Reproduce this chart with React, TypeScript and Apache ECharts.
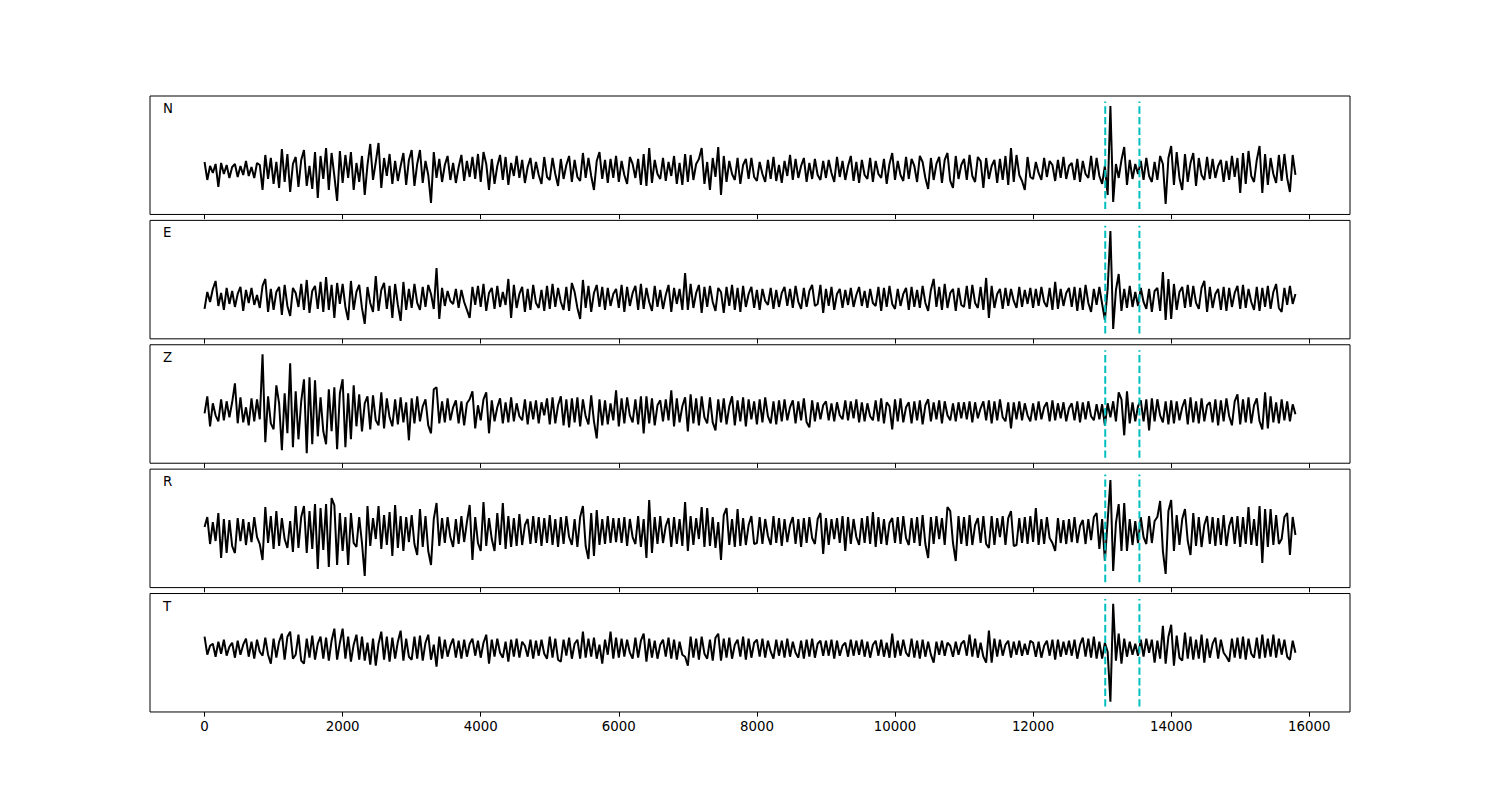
import React, { useEffect, useRef } from "react";
import * as echarts from "echarts";

// Sample spacing of the traces (x units)
const SAMPLE_STEP = 40;
const TRACE_NAMES = ["N", "E", "Z", "R", "T"];

// Waveform values (one value every SAMPLE_STEP units, 0..15800)
const N_TRACE = [
  8,-10,4,-3,6,-17,7,-4,5,-8,3,6,-7,4,-5,9,-6,3,-8,7,5,-20,15,-9,12,
  -14,8,-18,21,-12,16,-22,6,13,-17,10,20,-16,4,-19,18,-28,14,-9,22,-20,17,-6,-31,19,
  -13,15,-8,18,-20,7,-12,14,-25,5,26,-10,8,27,-18,12,-6,16,-14,9,-11,4,17,-15,10,
  20,-16,6,20,-13,9,-5,-33,18,-8,11,-12,5,14,-10,7,-13,3,15,-11,9,-7,13,-9,16,
  -12,18,6,-20,11,-14,4,15,-10,13,-15,7,-6,14,-8,10,-13,3,12,-9,8,-5,-14,13,-7,
  -10,12,-4,-16,11,-9,5,14,-12,10,-7,-11,17,-8,12,-6,-20,9,18,-9,10,-13,11,-8,14,
  -12,9,-5,-14,13,6,-8,11,-15,16,-16,22,-13,10,-4,-9,12,-11,8,-6,14,-14,7,-15,16,
  -12,15,-10,6,11,22,-14,8,-20,12,-7,23,-25,14,-12,9,-4,-10,12,-14,5,11,-9,12,-7,
  -11,8,-4,-12,10,-9,13,-11,5,-13,9,-6,15,-10,11,-8,4,12,-12,7,-9,11,-5,-10,9,
  -8,10,-3,-12,13,-7,9,-10,4,14,-11,8,-13,10,-5,-9,12,-12,9,-4,-8,11,-14,6,17,
  -10,9,-5,-11,13,-9,11,4,-12,14,8,-8,-19,12,-10,6,13,-13,10,17,-11,-18,14,-9,5,
  11,-10,15,-6,-12,13,9,-18,12,-9,4,10,-13,11,-10,14,-15,22,-12,15,-5,-11,-20,13,-7,
  -9,8,-3,-10,12,-7,9,5,-11,10,-8,13,-9,4,7,-10,11,-12,9,-4,-8,14,-10,12,-6,
  -14,4,-25,64,-32,6,-8,10,23,-15,10,-9,6,-4,9,-10,12,-6,-12,8,-10,14,6,-34,12,
  24,-15,18,-8,-20,16,-12,7,17,-16,12,-5,-10,13,-9,11,-8,4,10,-12,9,-10,14,-7,12,
  -23,17,-14,19,-6,-12,10,24,-23,16,-15,12,-4,-13,15,-11,16,-8,-22,15,-5,
];

const E_TRACE = [
  -11,6,-4,9,17,-8,5,-12,10,-6,7,-9,4,11,-13,8,-5,10,-7,3,-10,12,19,-14,9,
  -12,6,11,-17,13,-8,-18,10,5,-9,14,-12,18,-15,7,12,-11,16,-14,21,-12,13,-20,15,-6,
  14,-9,-22,17,-12,6,13,-10,-26,11,-5,-14,22,-13,8,15,-11,12,-20,14,-7,-23,16,-12,9,
  -10,14,-5,-12,11,-9,13,4,-11,30,-21,10,-8,7,-3,-6,9,-10,8,-4,-12,-20,11,-7,12,
  -9,14,-13,5,10,-11,12,-9,6,-7,19,-20,13,-10,4,11,-14,9,-12,13,-5,-10,8,-13,12,
  -11,14,-9,10,-4,-12,11,-13,15,6,-10,-21,18,-10,12,-14,5,13,-9,11,-12,10,-8,4,9,
  -10,13,-14,11,-8,5,12,-12,14,-11,10,-4,-13,12,-9,8,-11,3,13,-14,10,-6,9,-12,25,
  -12,14,-10,5,13,-15,11,-9,12,-4,-13,10,6,-15,11,-8,13,-12,10,-14,12,-9,4,11,-10,
  8,-12,9,-3,-7,10,-11,8,-9,5,11,-8,9,-10,12,-4,-11,10,-9,7,13,-8,-6,13,-15,
  9,-8,11,-12,4,9,-10,8,-7,10,-9,3,11,-8,7,-10,9,-5,-8,11,-13,10,-9,12,-6,
  -11,9,-8,4,10,-12,11,-9,8,-10,12,-5,-13,8,19,-9,11,-12,14,-10,5,9,-13,10,-7,
  -9,12,-11,13,-5,-10,11,-12,20,-20,12,-10,4,9,-11,10,-8,9,-3,-10,11,-9,8,-6,10,
  -10,9,-8,11,-4,-9,10,-12,16,-11,9,-8,5,10,-9,11,-13,10,-12,13,-5,-14,9,-7,11,
  -6,-22,9,67,-31,8,24,-13,9,-10,12,-9,6,-8,10,-4,-11,9,-14,7,10,-13,26,-22,19,
  -21,14,-12,6,11,-10,13,-9,12,-5,-11,10,17,-14,11,-10,4,9,-12,11,-13,10,-9,5,12,
  -11,13,-10,9,-4,-12,11,-13,10,-9,12,-11,6,14,-10,-14,10,-7,12,-6,4,
];

const Z_TRACE = [
  -2,15,-15,8,-4,-10,12,-9,10,-6,9,28,-12,14,-11,4,-14,13,-10,12,-8,57,-31,15,-12,
  -18,26,8,-39,18,-22,48,-36,20,-28,10,32,-42,34,-33,31,-25,14,-20,-33,22,-20,24,-38,18,
  32,-36,18,-28,26,-15,17,-20,8,15,-18,16,-9,-14,19,-17,13,-6,-15,12,-13,14,-11,9,-29,
  13,-12,15,-10,5,12,-14,-22,22,24,-12,10,-11,13,-9,4,11,-12,10,-14,8,12,20,-17,6,
  -9,12,19,-22,11,-10,4,13,-12,9,-11,14,-10,8,-5,-9,12,-13,10,-8,11,-12,9,-4,13,
  -13,14,-12,6,15,-14,12,-16,13,-11,14,-15,12,-5,-13,16,-10,-27,12,-14,11,-13,8,-9,21,
  -15,13,-12,14,-4,-11,12,-13,15,-22,15,-12,13,-14,6,11,-10,12,-9,21,-15,13,-11,5,14,
  -20,17,-12,13,-14,15,-6,-12,14,-11,-19,12,-11,13,-13,5,15,-14,11,-10,14,-15,12,-8,10,
  -13,12,-11,14,-5,-12,10,-13,11,-10,12,-9,4,11,-12,10,-9,13,-11,-16,11,-10,9,-8,6,
  10,-9,8,-10,9,-4,-8,11,-9,10,-7,12,-11,9,-10,8,-5,-9,11,-10,13,-12,9,5,-18,
  12,-10,13,-11,4,9,-12,10,-9,11,-13,6,12,-10,9,-8,11,-12,10,-4,-9,8,-10,9,-7,
  9,-8,10,-11,9,-7,3,10,-9,11,-12,10,-9,12,-6,-10,9,-17,9,-8,10,-9,8,-4,-10,
  8,-9,10,-8,4,9,-10,11,-9,8,-7,9,-10,3,8,-9,10,-11,9,-8,10,-5,-9,7,-8,
  7,-14,8,-6,10,-10,19,12,-24,20,-12,9,-10,5,11,-10,12,-19,13,-10,12,-4,-11,10,-13,
  11,-12,10,-9,4,12,-13,14,-11,10,-12,13,-10,6,9,-11,12,-14,11,-10,13,-5,-14,10,17,
  -13,12,-11,14,-12,6,13,-10,-18,19,-17,15,-11,9,-12,12,-9,10,-10,7,-3,
];

const R_TRACE = [
  4,14,-13,9,-10,18,-27,12,-22,11,-15,-22,13,-10,12,-14,9,-11,14,-6,-13,-29,24,-12,15,
  -18,20,-15,13,-8,-17,10,-21,25,-17,14,25,-22,20,-18,27,-38,23,-19,27,-36,33,26,-34,18,
  -20,14,-34,18,-12,-16,14,-12,-45,25,-15,13,-8,25,-18,16,-14,19,-25,26,-17,15,-20,14,-11,
  16,-13,-24,22,-16,15,-20,-34,12,28,-15,13,-12,14,-6,-16,12,-13,15,-11,9,26,-29,14,-12,
  -20,29,-15,13,-8,-20,18,-14,28,-18,15,-16,13,-15,17,-14,6,12,-13,15,-12,14,-15,13,-12,
  16,-14,12,-16,14,-13,15,-6,-14,12,-16,14,25,-15,-28,18,-25,21,-14,12,-13,15,-12,13,-11,
  13,-12,14,-15,12,-6,-13,15,-16,12,-27,31,-22,14,-13,15,-12,5,13,-16,14,-13,12,-15,29,
  -20,15,-14,13,-8,24,-16,23,-15,14,-17,9,-29,16,23,-14,12,-16,22,-15,13,-14,6,15,-13,
  -12,14,-13,12,-5,-14,15,-12,13,-15,12,-11,6,14,-13,12,-16,13,-12,14,-7,-13,12,18,-23,
  13,-14,12,-8,13,-12,15,-20,14,-13,12,-6,-14,13,-12,15,-13,19,-16,14,-13,12,-14,8,13,
  -12,14,-13,15,-7,-14,13,-12,14,-15,16,-13,-27,14,-13,15,-8,13,-14,24,20,-12,-30,15,-13,
  14,-15,16,-14,6,13,-12,15,-13,-17,15,-14,13,-6,15,-14,13,20,-15,-14,13,-12,14,-13,15,
  -11,23,-14,12,-13,14,-7,-12,-20,13,-12,11,-13,12,-11,14,-12,5,11,-13,12,-9,14,18,-18,
  12,-30,10,51,-40,8,27,-20,28,-20,12,-14,10,-12,14,-6,-13,15,-12,10,14,30,-20,-43,20,
  31,-20,16,-14,12,22,-10,-24,18,-15,14,-16,6,15,-13,14,-15,13,-14,16,-15,5,14,-13,15,
  -16,14,-13,24,-14,12,-15,25,-32,22,-16,22,-14,16,-13,-8,14,18,-24,14,-4,
];

const T_TRACE = [
  12,-6,3,5,-8,7,-5,9,-7,2,6,-9,8,-6,4,10,-8,7,-10,9,-3,-7,11,-6,-15,
  10,-9,7,15,-11,12,17,-10,-6,14,-12,-15,10,-9,13,-11,5,12,-10,11,-12,8,20,-11,6,
  20,-10,12,-13,4,14,-11,12,-12,6,-16,10,-17,5,17,-11,12,-13,11,-10,7,18,-12,10,-8,
  -11,12,-10,13,-12,6,14,-11,4,-18,12,-10,9,-8,3,10,-9,8,-10,9,-8,5,10,-7,8,
  -9,6,14,-15,9,-8,10,-4,-9,7,-13,9,-8,10,-9,7,3,-8,9,-10,8,-7,9,-5,-10,
  12,-9,10,-11,-13,9,-7,11,-10,5,9,-10,17,-9,10,-8,11,-10,4,-15,9,-6,17,-10,11,
  -9,10,-8,9,-4,-10,11,-9,8,15,-13,10,-9,8,-10,4,9,-8,11,-10,9,-11,7,-6,-8,
  -17,12,-9,10,-11,12,-5,-10,9,-12,11,15,-12,10,-9,11,-10,4,9,-8,12,-11,10,-9,6,
  9,-8,10,-9,8,-3,-10,9,-7,8,-9,10,-8,7,-4,-9,8,-10,9,-8,10,-9,5,8,-7,
  8,-7,9,-10,8,-7,3,6,-8,9,-7,8,-6,9,-8,7,-9,4,8,-7,9,-8,6,-9,15,
  -9,8,-7,9,-4,-8,10,-9,8,-10,9,-8,7,-6,-14,7,-6,8,-7,6,3,-8,7,-6,5,
  8,-7,14,-8,10,-9,6,-8,-14,18,-14,10,-8,9,-7,4,8,-9,7,-6,8,-7,5,-6,8,
  6,-8,7,-9,3,8,-7,9,-11,9,-8,7,-6,8,-7,9,-10,4,11,-8,10,-9,12,-10,7,
  -10,6,-3,-53,45,-12,15,-15,10,-8,7,-6,5,-7,9,-8,10,-4,9,-14,8,-10,23,-15,12,
  24,-17,13,-9,-12,16,-10,12,-11,9,-10,14,-14,10,-9,5,11,-10,9,-4,-8,-13,10,-9,11,
  -10,12,-11,10,-5,-9,11,-10,14,-9,10,-8,14,-9,10,-6,9,-8,-11,8,-4,
];

const TRACES = [N_TRACE, E_TRACE, Z_TRACE, R_TRACE, T_TRACE];

// Axis settings
const X_TICKS = [0, 2000, 4000, 6000, 8000, 10000, 12000, 14000, 16000];
const X_MIN = -790;
const X_MAX = 16590;
const Y_MIN = [-44.5, -40.9, -51.9, -56.6, -63.3];
const Y_MAX = [74, 77.6, 66.5, 61.9, 55.2];

// Picked times (dashed markers)
const PICK_TIMES = [13045, 13540];

export default function App() {
  const ref = useRef<HTMLDivElement>(null);

  useEffect(() => {
    if (!ref.current) return;
    const chart = echarts.init(ref.current, null, { renderer: "svg" });

    const panelTop = 96;
    const panelHeight = 118.46;
    const panelGap = 5.92;
    const grids: any[] = [];
    const xAxes: any[] = [];
    const yAxes: any[] = [];
    const series: any[] = [];
    const graphics: any[] = [];

    TRACES.forEach((trace, k) => {
      const top = panelTop + k * (panelHeight + panelGap);
      const isLast = k === TRACES.length - 1;
      grids.push({
        left: 150,
        top,
        width: 1200,
        height: panelHeight,
        show: true,
        borderColor: "#000",
        borderWidth: 1,
        backgroundColor: "#fff",
        containLabel: false,
      });
      xAxes.push({
        type: "value",
        gridIndex: k,
        min: X_MIN,
        max: X_MAX,
        axisLine: { show: false, onZero: false },
        splitLine: { show: false },
        axisTick: {
          show: true,
          inside: false,
          length: 4.7,
          lineStyle: { color: "#000", width: 1 },
          customValues: X_TICKS,
        },
        axisLabel: {
          show: isLast,
          customValues: X_TICKS,
          color: "#000",
          fontFamily: "DejaVu Sans",
          fontSize: 13.33,
          margin: 8,
          formatter: (v: number) => String(v),
        },
      });
      yAxes.push({
        type: "value",
        gridIndex: k,
        min: Y_MIN[k],
        max: Y_MAX[k],
        show: false,
        splitLine: { show: false },
      });
      series.push({
        type: "line",
        xAxisIndex: k,
        yAxisIndex: k,
        data: trace.map((v, i) => [i * SAMPLE_STEP, v]),
        symbol: "none",
        showSymbol: false,
        lineStyle: { color: "#000", width: 2 },
        silent: true,
        z: 2,
      });
      const m = ((Y_MAX[k] - Y_MIN[k]) * 0.05) / 1.1;
      PICK_TIMES.forEach((t) => {
        series.push({
          type: "line",
          xAxisIndex: k,
          yAxisIndex: k,
          data: [
            [t, Y_MIN[k] + m],
            [t, Y_MAX[k] - m],
          ],
          symbol: "none",
          showSymbol: false,
          lineStyle: { color: "#00bfbf", width: 2, type: [7.4, 3.2] },
          silent: true,
          z: 3,
        });
      });
      graphics.push({
        type: "text",
        x: 163,
        y: top + 12.5,
        style: {
          text: TRACE_NAMES[k],
          fill: "#000",
          font: '13.33px "DejaVu Sans"',
          align: "left",
          verticalAlign: "middle",
        },
      });
    });

    chart.setOption({
      animation: false,
      backgroundColor: "#fff",
      grid: grids,
      xAxis: xAxes,
      yAxis: yAxes,
      series,
      graphic: graphics,
    });

    return () => chart.dispose();
  }, []);

  return (
    <div
      ref={ref}
      style={{ position: "fixed", left: 0, top: 0, width: 1500, height: 800 }}
    />
  );
}
